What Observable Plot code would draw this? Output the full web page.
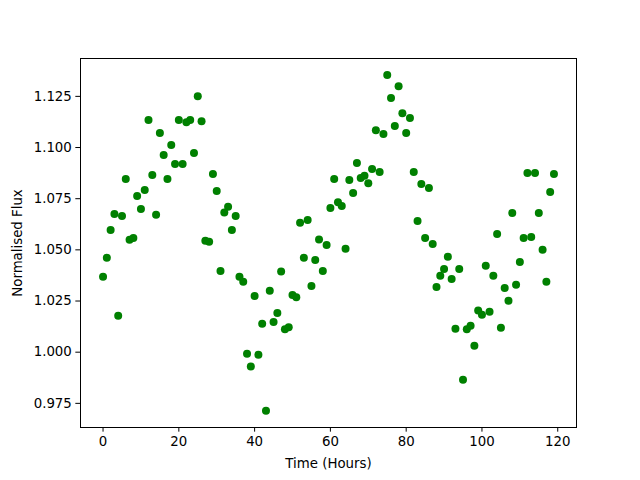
<!DOCTYPE html>
<html>
<head>
<meta charset="utf-8">
<script src="https://cdn.jsdelivr.net/npm/d3@7"></script>
<script src="https://cdn.jsdelivr.net/npm/@observablehq/plot@0.6"></script>
<style>
html, body { margin: 0; padding: 0; background: #fff; }
#chart svg { display: block; }
</style>
</head>
<body>
<div id="chart"></div>
<script>
const hours = d3.range(0, 120);
const flux = [
  1.0368, 1.0461, 1.0597, 1.0675, 1.0178, 1.0666, 1.0846, 1.0549, 1.0558, 1.0763,
  1.0700, 1.0793, 1.1134, 1.0866, 1.0671, 1.1071, 1.0963, 1.0846, 1.1012, 1.0919,
  1.1134, 1.0919, 1.1123, 1.1134, 1.0973, 1.1251, 1.1129, 1.0544, 1.0539, 1.0871,
  1.0788, 1.0397, 1.0683, 1.0711, 1.0597, 1.0666, 1.0369, 1.0344, 0.9992, 0.9930,
  1.0275, 0.9987, 1.0139, 0.9714, 1.0300, 1.0148, 1.0192, 1.0394, 1.0112, 1.0122,
  1.0280, 1.0268, 1.0632, 1.0461, 1.0646, 1.0324, 1.0451, 1.0550, 1.0397, 1.0524,
  1.0705, 1.0846, 1.0733, 1.0714, 1.0505, 1.0841, 1.0778, 1.0924, 1.0851, 1.0862,
  1.0825, 1.0895, 1.1085, 1.0880, 1.1066, 1.1354, 1.1242, 1.1105, 1.1300, 1.1168,
  1.1071, 1.1144, 1.0880, 1.0641, 1.0822, 1.0558, 1.0802, 1.0529, 1.0319, 1.0373,
  1.0407, 1.0466, 1.0358, 1.0114, 1.0407, 0.9865, 1.0112, 1.0129, 1.0031, 1.0204,
  1.0183, 1.0422, 1.0197, 1.0373, 1.0578, 1.0119, 1.0314, 1.0251, 1.0680, 1.0329,
  1.0441, 1.0558, 1.0876, 1.0563, 1.0876, 1.0680, 1.0500, 1.0344, 1.0783, 1.0871
];
const xTicks = [0, 20, 40, 60, 80, 100, 120];
const yTicks = [0.975, 1.000, 1.025, 1.050, 1.075, 1.100, 1.125];

const data = hours.map((h, i) => ({ t: h, f: flux[i] }));

const chart = Plot.plot({
  width: 640,
  height: 480,
  marginLeft: 80,
  marginRight: 64,
  marginTop: 58,
  marginBottom: 53,
  style: { fontFamily: "DejaVu Sans", fontSize: "13.33px", color: "black", background: "white" },
  x: { domain: [-5.95, 124.95] },
  y: { domain: [0.9632, 1.1435] },
  marks: [
    Plot.dot(data, { x: "t", y: "f", r: 4, fill: "#008000", stroke: "none" }),
    Plot.axisX({ ticks: xTicks, tickSize: 4.67, tickPadding: 4, tickFormat: d3.format("d"),
      label: "Time (Hours)", labelAnchor: "center", labelArrow: "none", labelOffset: 40, fontSize: "13.33px" }),
    Plot.axisY({ ticks: yTicks, tickSize: 4.67, tickPadding: 4, tickFormat: d3.format(".3f"),
      label: "Normalised Flux", labelAnchor: "center", labelArrow: "none", labelOffset: 68, fontSize: "13.33px" }),
    Plot.frame({ stroke: "black", strokeWidth: 1 })
  ]
});
document.getElementById("chart").appendChild(chart);
</script>
</body>
</html>
